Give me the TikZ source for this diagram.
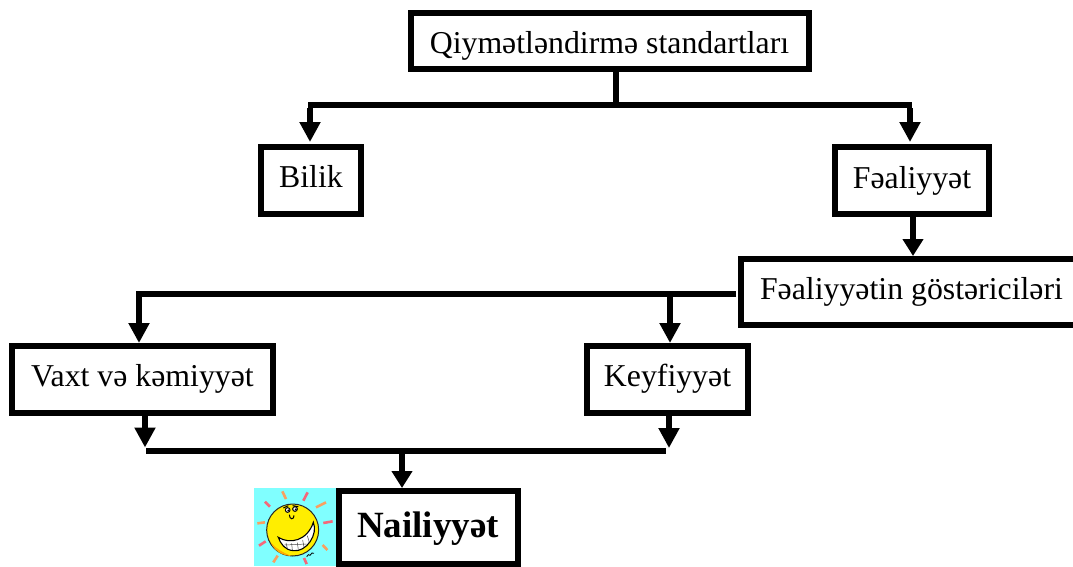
\documentclass[tikz,border=0pt]{standalone}
\usepackage{fontspec}
\setmainfont{Liberation Serif}
\usetikzlibrary{arrows.meta}
\definecolor{rayp}{HTML}{F4687A}
\definecolor{rayo}{HTML}{F9A060}
\definecolor{skyc}{HTML}{80FFFF}
\definecolor{sun}{HTML}{FFEE00}
\tikzset{
 bx/.style={draw=black,line width=6pt,fill=white,inner sep=0pt,font=\fontsize{31.8}{36}\selectfont,text depth=0pt,text height=14pt,anchor=center},
 ln/.style={draw=black,line width=6pt},
 ar/.style={draw=black,line width=6pt,-{Triangle[length=20pt,width=20pt]}},
 ars/.style={draw=black,line width=6pt,-{Triangle[length=17pt,width=20pt]}},
}
\begin{document}
\begin{tikzpicture}[x=1pt,y=-1pt]
\useasboundingbox (0,0) rectangle (1073,566);
% smiley
\fill[skyc] (254,488) rectangle (337,566);
\begin{scope}[shift={(250,484)},scale=1/3]
\foreach \xa/\ya/\xb/\yb/\c in {60/68/45/53/rayp,108/45/97/22/rayo,160/50/173/25/rayp,198/70/228/55/rayo,220/117/248/112/rayp,218/183/232/198/rayo,162/222/170/240/rayp,83/215/70/235/rayo,47/172/27/185/rayp,45/115/22/118/rayo}
  \draw[\c,line width=2.6pt] (\xa,\ya) -- (\xb,\yb);
\fill[sun,draw=black!85,line width=1pt] (128,138) circle (78);
\fill[orange!60!sun] (62,175) .. controls (75,205) and (100,215) .. (125,216) .. controls (95,205) and (75,190) .. (62,175) -- cycle;
\draw[black,line width=1.1pt,fill=white] (85,160) .. controls (120,182) and (172,170) .. (190,115) .. controls (205,150) and (170,205) .. (130,200) .. controls (105,198) and (92,180) .. (85,160) -- cycle;
\draw[black!70,line width=.5pt] (108,177) -- (112,193) (125,178) -- (127,198) (142,176) -- (145,197) (158,168) -- (162,190) (172,155) -- (178,175) (103,183) -- (170,180);
\draw[black,line width=1pt,fill=white] (113,78) circle (7) (135,75) circle (7);
\fill[black] (115,79) circle (3) (137,76) circle (3);
\draw[black,line width=1pt] (100,72) -- (115,65) (128,65) -- (145,68);
\draw[black,line width=1pt] (118,92) .. controls (118,108) and (133,108) .. (132,94);
\draw[black,line width=.8pt] (170,218) -- (175,212) -- (180,214) -- (186,207) -- (192,208);
\end{scope}
\node[bx,minimum width=398pt,minimum height=56pt,text height=24pt] (top) at (609.5,41) {Qiymətləndirmə standartları};
\node[bx,minimum width=100pt,minimum height=67pt] (bilik) at (311,180.5) {Bilik};
\node[bx,minimum width=154pt,minimum height=67pt,text height=15pt] (fea) at (912,180.5) {Fəaliyyət};
\node[bx,minimum width=341pt,minimum height=66pt] (gos) at (911.5,292) {Fəaliyyətin göstəriciləri};
\node[bx,minimum width=261pt,minimum height=67pt] (vaxt) at (142.5,379.5) {Vaxt və kəmiyyət};
\node[bx,minimum width=161pt,minimum height=67pt] (key) at (667.5,379.5) {Keyfiyyət};
\node[bx,minimum width=179pt,minimum height=73pt,text height=19pt,font=\fontsize{37}{40}\selectfont\bfseries] (nai) at (428,527.5) {Nailiyyət};
\coordinate (h1s) at (616,105);
\coordinate (h1l) at (308,105);
\coordinate (h1r) at (912,105);
\coordinate (s1l) at (310,108);
\coordinate (s1r) at (910,108);
\draw[ln] (top.south-|h1s) -- (h1s);
\draw[ln] (h1l) -- (h1r);
\draw[ar,shorten >=2pt] (s1l) -- (s1l|-bilik.north);
\draw[ar,shorten >=2pt] (s1r) -- (s1r|-fea.north);
\coordinate (fg) at (913,217);
\draw[ars] (fg) -- (fg|-gos.north);
\coordinate (h2l) at (136,294);
\coordinate (h2r) at (736,294);
\coordinate (s2l) at (139,291);
\coordinate (s2k) at (670,294);
\draw[ln] (h2r) -- (h2l);
\draw[ar] (s2l) -- (s2l|-vaxt.north);
\draw[ar] (s2k) -- (s2k|-key.north);
\coordinate (h3l) at (146,451);
\coordinate (h3r) at (666,451);
\coordinate (s3m) at (402,448);
\coordinate (t3l) at (145,447.5);
\coordinate (t3r) at (669,448);
\draw[ar] (vaxt.south-|t3l) -- (t3l);
\draw[ar] (key.south-|t3r) -- (t3r);
\draw[ln] (h3l) -- (h3r);
\draw[ars] (s3m) -- (s3m|-nai.north);
\end{tikzpicture}
\end{document}
